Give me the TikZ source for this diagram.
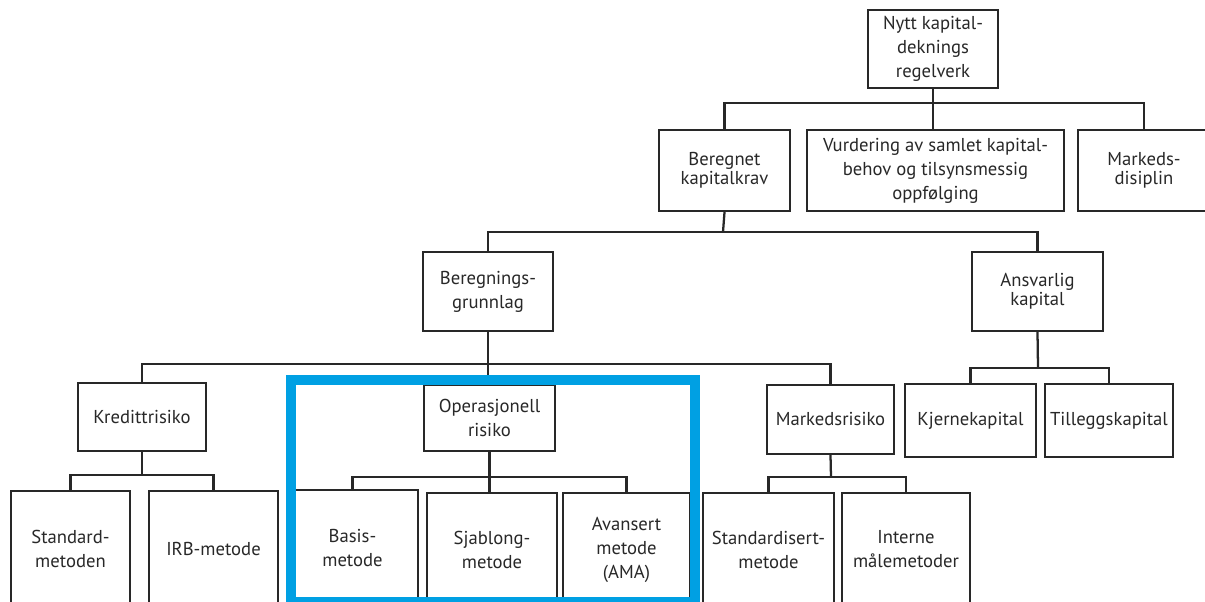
\documentclass[tikz,border=0pt]{standalone}
\usepackage{fontspec}
\setmainfont{PT Sans}
\definecolor{hlblue}{RGB}{0,160,227}
\definecolor{ink}{RGB}{40,40,40}
\newcommand{\boxnode}[7][]{\node[orgbox,#1, minimum width={(#4-#2)*0.75pt}, minimum height={(#5-#3)*0.75pt}] (#6) at ({(#2+#4)/2},{(#3+#5)/2}) {#7};}
\tikzset{
  orgbox/.style={draw=ink, line width=1.7pt, fill=white, inner sep=0pt, align=center, text=ink,
    font=\fontsize{14}{18}\selectfont},
  tight/.style={font=\fontsize{14}{14.5}\selectfont},
  conn/.style={draw=ink, line width=1.7pt},
  hl/.style={draw=hlblue, line width=6.8pt}
}
\begin{document}
\begin{tikzpicture}[x=0.75pt,y=-0.75pt]
\useasboundingbox (0,0) rectangle (1205,602);
\clip (0,0) rectangle (1205,602);
% level 0
\boxnode{868}{10}{998}{88}{top}{Nytt kapital-\\deknings\\regelverk}
% level 1
\boxnode[tight]{659}{130}{790}{211}{ber}{Beregnet\\kapitalkrav}
\boxnode{807}{130}{1064}{211}{vur}{Vurdering av samlet kapital-\\behov og tilsynsmessig\\oppfølging}
\boxnode[tight]{1078}{130}{1210}{211}{mdi}{Markeds-\\disiplin}
% level 2
\boxnode{423}{252}{553}{331}{bgr}{Beregnings-\\grunnlag}
\boxnode[tight]{972}{252}{1103}{331}{ans}{Ansvarlig\\kapital}
% level 3
\boxnode{78}{383}{206}{451}{kre}{Kredittrisiko}
\boxnode{424}{385}{555}{451}{opr}{Operasjonell\\risiko}
\boxnode{767}{385}{894}{454}{mrk}{Markedsrisiko}
\boxnode{905}{384}{1036}{457}{kje}{Kjernekapital}
\boxnode{1045}{384}{1173}{457}{til}{Tilleggskapital}
% level 4
\boxnode{11}{491}{130}{606}{std}{Standard-\\metoden}
\boxnode{149}{491}{278}{606}{irb}{IRB-metode}
\boxnode{287}{490}{418}{606}{bas}{Basis-\\metode}
\boxnode{427}{493}{557}{606}{sja}{Sjablong-\\metode}
\boxnode{563}{493}{690}{606}{ava}{Avansert\\metode\\(AMA)}
\boxnode{703}{493}{834}{606}{sdm}{Standardisert-\\metode}
\boxnode{842}{493}{970}{606}{int}{Interne\\målemetoder}
% bus coordinates
\coordinate (b0) at (934,103);
\coordinate (b1) at (723,232);
\coordinate (b2) at (488,364);
\coordinate (b3) at (1038,368);
\coordinate (b4) at (142,475);
\coordinate (b5) at (490,477);
\coordinate (b6) at (831,477);
% connectors
\draw[conn] (top.south) -- (top.south |- vur.north);
\draw[conn] (ber.north) |- (b0) -| (mdi.north);
\draw[conn] (ber.south) -- (b1);
\draw[conn] (bgr.north) |- (b1) -| (ans.north);
\draw[conn] (bgr.south) -- (bgr.south |- opr.north);
\draw[conn] (kre.north) |- (b2) -| (mrk.north);
\draw[conn] (ans.south) -- (b3);
\draw[conn] (kje.north) |- (b3) -| (til.north);
\draw[conn] (kre.south) -- (b4);
\draw[conn] (std.north) |- (b4) -| (irb.north);
\draw[conn] (opr.south) -- (opr.south |- sja.north);
\draw[conn] (bas.north) |- (b5) -| (ava.north);
\draw[conn] (mrk.south) -- (b6);
\draw[conn] (sdm.north) |- (b6) -| (int.north);
% highlight frame
\draw[hl] (291,380) rectangle (695,601.5);
\end{tikzpicture}
\end{document}
